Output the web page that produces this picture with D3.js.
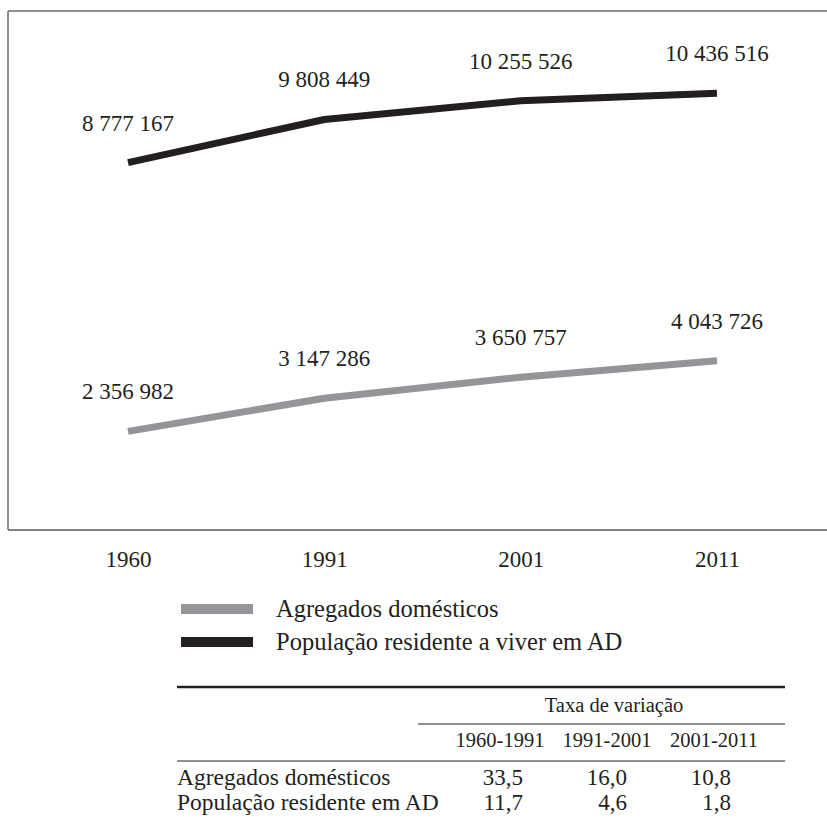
<!DOCTYPE html>
<html>
<head>
<meta charset="utf-8">
<script src="https://cdn.jsdelivr.net/npm/d3@7"></script>
<style>
  html, body { margin: 0; padding: 0; background: #fff; overflow: hidden; }
  svg { display: block; overflow: hidden; }
</style>
</head>
<body>
<svg id="chart" width="827" height="827"></svg>
<script>
// ---- data ----
const years = ["1960", "1991", "2001", "2011"];
const agregados = [2356982, 3147286, 3650757, 4043726];
const populacao = [8777167, 9808449, 10255526, 10436516];
const seriesNames = ["Agregados domésticos", "População residente a viver em AD"];
const tableTitle = "Taxa de variação";
const periods = ["1960-1991", "1991-2001", "2001-2011"];
const rowLabels = ["Agregados domésticos", "População residente em AD"];
const rateAgregados = [33.5, 16.0, 10.8];
const ratePopulacao = [11.7, 4.6, 1.8];

// ---- setup ----
const svg = d3.select("#chart");
const locale = d3.formatLocale({ decimal: ",", thousands: " ", grouping: [3], currency: ["", ""] });
const fmtInt = locale.format(",d");
const fmtDec = locale.format(",.1f");
const FONT = "Liberation Serif, serif";
const INK = "#231f20";
const NUM = 23, LEG = 24.5, ROW = 23.5, HEAD = 20.5;

const colors = { agregados: "#939598", populacao: "#231f20" };
const series = [
  { key: "agregados", name: seriesNames[0], values: agregados, color: colors.agregados },
  { key: "populacao", name: seriesNames[1], values: populacao, color: colors.populacao }
];

const frame = { left: 8, top: 11, right: 827, bottom: 530 };

const x = d3.scalePoint().domain(years).range([128, 717]);
const y = d3.scaleLinear().domain([0, 12400000]).range([frame.bottom, frame.top]);

// frame: top, left and bottom sides only
svg.append("line").attr("x1", frame.left).attr("x2", frame.right).attr("y1", frame.top).attr("y2", frame.top)
  .attr("stroke", "#6d6e71").attr("stroke-width", 1.5);
svg.append("line").attr("x1", frame.left).attr("x2", frame.right).attr("y1", frame.bottom).attr("y2", frame.bottom)
  .attr("stroke", "#808285").attr("stroke-width", 2);
svg.append("line").attr("x1", frame.left).attr("x2", frame.left).attr("y1", frame.top).attr("y2", frame.bottom)
  .attr("stroke", "#6d6e71").attr("stroke-width", 1.5);

// lines
const line = d3.line().x((d, i) => x(years[i])).y(d => y(d));
svg.selectAll("path.series").data(series).join("path")
  .attr("class", "series")
  .attr("d", d => line(d.values))
  .attr("fill", "none")
  .attr("stroke", d => d.color)
  .attr("stroke-width", 7)
  .attr("stroke-linecap", "butt")
  .attr("stroke-linejoin", "round");

// value labels
series.forEach(s => {
  svg.selectAll(null).data(s.values).join("text")
    .attr("x", (d, i) => x(years[i]))
    .attr("y", d => y(d) - 32)
    .attr("text-anchor", "middle")
    .attr("font-size", NUM)
    .text(d => fmtInt(d));
});

// x axis
const xAxis = d3.axisBottom(x).tickSize(0).tickPadding(11);
const gx = svg.append("g").attr("transform", `translate(0,540)`).call(xAxis);
gx.select(".domain").remove();
gx.selectAll("text").attr("font-size", NUM);

// legend
const legend = svg.append("g").attr("transform", "translate(181,609)");
legend.selectAll("g").data(series).join("g")
  .attr("transform", (d, i) => `translate(0,${i * 33})`)
  .each(function (d) {
    const g = d3.select(this);
    g.append("rect").attr("x", 0).attr("y", -5).attr("width", 72).attr("height", 10).attr("fill", d.color);
    g.append("text").attr("x", 95).attr("y", 8).attr("font-size", LEG).text(d.name);
  });

// table
const table = svg.append("g");
const tLeft = 177, tRight = 785;
table.append("line").attr("x1", tLeft).attr("x2", tRight).attr("y1", 687).attr("y2", 687)
  .attr("stroke", INK).attr("stroke-width", 2.5);
table.append("line").attr("x1", 418).attr("x2", tRight).attr("y1", 724).attr("y2", 724)
  .attr("stroke", INK).attr("stroke-width", 1);
table.append("line").attr("x1", tLeft).attr("x2", tRight).attr("y1", 761).attr("y2", 761)
  .attr("stroke", INK).attr("stroke-width", 1);

table.append("text").attr("x", 614).attr("y", 712).attr("text-anchor", "middle")
  .attr("font-size", HEAD).text(tableTitle);

const colCenter = d3.scalePoint().domain(periods).range([500, 714]);
table.selectAll("text.period").data(periods).join("text")
  .attr("class", "period")
  .attr("x", d => colCenter(d)).attr("y", 747)
  .attr("text-anchor", "middle").attr("font-size", HEAD)
  .text(d => d);

const colRight = d3.scalePoint().domain(periods).range([523, 731]);
const rows = [
  { label: rowLabels[0], values: rateAgregados },
  { label: rowLabels[1], values: ratePopulacao }
];
const rowY = d3.scalePoint().domain(rowLabels).range([785, 810]);
rows.forEach(r => {
  table.append("text").attr("x", tLeft).attr("y", rowY(r.label)).attr("font-size", ROW).text(r.label);
  table.selectAll(null).data(r.values).join("text")
    .attr("x", (d, i) => colRight(periods[i]))
    .attr("y", rowY(r.label))
    .attr("text-anchor", "end").attr("font-size", NUM)
    .text(d => fmtDec(d));
});

// serif font and ink colour on every text
svg.selectAll("text")
  .style("font-family", FONT)
  .attr("fill", INK);
</script>
</body>
</html>
